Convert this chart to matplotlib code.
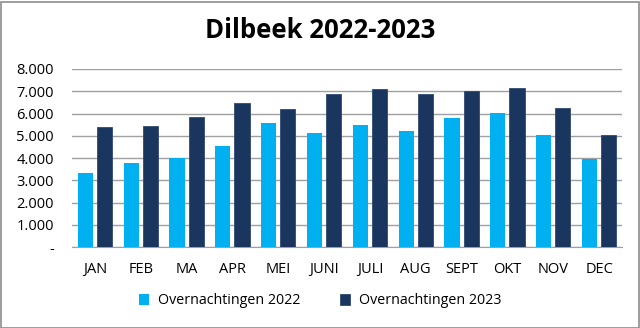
import matplotlib
matplotlib.use("Agg")
import matplotlib.pyplot as plt
import numpy as np
from matplotlib.patches import Rectangle

# data
months = ["JAN", "FEB", "MA", "APR", "MEI", "JUNI", "JULI", "AUG", "SEPT", "OKT", "NOV", "DEC"]
nights_2022 = [3340, 3780, 4010, 4550, 5560, 5110, 5480, 5230, 5810, 6010, 5030, 3960]
nights_2023 = [5410, 5440, 5840, 6490, 6190, 6880, 7120, 6880, 7030, 7160, 6230, 5050]
yticks = [0, 1000, 2000, 3000, 4000, 5000, 6000, 7000, 8000]
ytick_labels = ["-", "1.000", "2.000", "3.000", "4.000", "5.000", "6.000", "7.000", "8.000"]

plt.rcParams["font.family"] = ["Open Sans", "DejaVu Sans"]

fig = plt.figure(figsize=(6.4, 3.28), dpi=100)
ax = fig.add_axes([72 / 640, 1 - 247 / 328, 550 / 640, 178 / 328])

x = np.arange(len(months))
w = 0.33
ax.bar(x - 0.21, nights_2022, w, color="#00B0F0", label="Overnachtingen 2022", zorder=3)
ax.bar(x + 0.21, nights_2023, w, color="#1B365E", edgecolor="#2E4A73", linewidth=0.6,
       label="Overnachtingen 2023", zorder=3)

ax.set_xlim(-0.5, len(months) - 0.5)
ax.set_ylim(0, 8000)
ax.set_yticks(yticks)
ax.set_yticklabels(ytick_labels, fontsize=10.5)
ax.set_xticks(x)
ax.set_xticklabels(months, fontsize=10.5)
ax.tick_params(axis="y", length=0, pad=13)
ax.tick_params(axis="x", length=0, pad=11)
ax.grid(axis="y", color="#A0A0A0", linewidth=1, zorder=0)
for s in ["top", "right", "left"]:
    ax.spines[s].set_visible(False)
ax.spines["bottom"].set_color("#A0A0A0")

fig.text(0.5, 1 - 31 / 328, "Dilbeek 2022-2023", ha="center", va="center",
         fontsize=18.5, fontweight="bold")

fig.legend(loc="center", bbox_to_anchor=(0.5, 1 - 301 / 328), ncol=2, frameon=False,
           fontsize=10.3, handlelength=0.7, handleheight=0.7, columnspacing=2.8, handletextpad=0.6)

fig.patches.append(Rectangle((0.5 / 640, 0.5 / 328), 638 / 640, 326 / 328, transform=fig.transFigure,
                             fill=False, edgecolor="#8C8C8C", linewidth=1.2))

fig.savefig("out.png", dpi=100)
